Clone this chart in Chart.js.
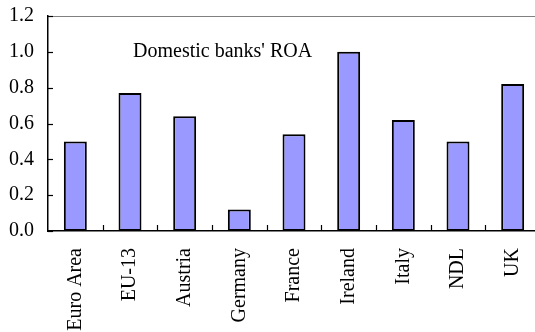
<!DOCTYPE html>
<html>
<head>
<meta charset="utf-8">
<script src="https://cdn.jsdelivr.net/npm/chart.js@4"></script>
<style>
  html, body { margin: 0; padding: 0; background: #fff; overflow: hidden; }
  #wrap { width: 540px; height: 332px; position: relative; }
</style>
</head>
<body>
<div id="wrap"><canvas id="c"></canvas></div>
<script>
// Return on assets of domestic banks, by country
const categories = ['Euro Area', 'EU-13', 'Austria', 'Germany', 'France', 'Ireland', 'Italy', 'NDL', 'UK'];
const roaValues = [0.50, 0.77, 0.64, 0.12, 0.54, 1.00, 0.62, 0.50, 0.82];
const yTicks = [0.0, 0.2, 0.4, 0.6, 0.8, 1.0, 1.2];
const chartLabel = "Domestic banks' ROA";

const FONT = '"Liberation Serif", "Times New Roman", serif';

// Inward tick marks, frame line and the in-plot caption
const decorations = {
  id: 'decorations',
  afterDraw(chart) {
    const { ctx, chartArea: a, scales: { x, y } } = chart;
    ctx.save();
    // top frame line
    ctx.strokeStyle = '#808080';
    ctx.lineWidth = 1;
    ctx.beginPath();
    ctx.moveTo(a.left, a.top + 0.5);
    ctx.lineTo(a.right, a.top + 0.5);
    ctx.stroke();
    // y ticks pointing into the plot
    ctx.strokeStyle = '#000';
    ctx.lineWidth = 1.2;
    yTicks.forEach(v => {
      const py = Math.round(y.getPixelForValue(v)) + 0.5;
      ctx.beginPath();
      ctx.moveTo(a.left, py);
      ctx.lineTo(a.left + 5, py);
      ctx.stroke();
    });
    // x ticks between categories, pointing up
    for (let i = 0; i < categories.length - 1; i++) {
      const px = Math.round((x.getPixelForValue(i) + x.getPixelForValue(i + 1)) / 2) + 0.5;
      ctx.beginPath();
      ctx.moveTo(px, a.bottom);
      ctx.lineTo(px, a.bottom - 6);
      ctx.stroke();
    }
    // caption
    ctx.fillStyle = '#000';
    ctx.font = '20px ' + FONT;
    ctx.textBaseline = 'alphabetic';
    ctx.textAlign = 'left';
    ctx.fillText(chartLabel, a.left + 85, a.top + 41);
    ctx.restore();
  }
};

new Chart(document.getElementById('c'), {
  type: 'bar',
  data: {
    labels: categories,
    datasets: [{
      data: roaValues,
      backgroundColor: '#9999FF',
      borderColor: '#000',
      borderWidth: 2,
      borderSkipped: false,
      categoryPercentage: 1,
      barPercentage: 0.42
    }]
  },
  options: {
    responsive: true,
    maintainAspectRatio: false,
    animation: false,
    devicePixelRatio: 1,
    layout: { padding: { top: 16, left: 0, right: 0, bottom: 0 } },
    plugins: { legend: { display: false }, tooltip: { enabled: false }, title: { display: false } },
    scales: {
      x: {
        grid: { display: false, drawTicks: false },
        border: { display: true, color: '#000', width: 1.5 },
        ticks: {
          color: '#000',
          font: { family: FONT, size: 20 },
          minRotation: 90,
          maxRotation: 90,
          autoSkip: false,
          padding: 17
        },
        afterFit(scale) {
          scale.height = 101;
          scale.paddingLeft = 0;
          scale.paddingRight = 0;
        }
      },
      y: {
        min: 0,
        max: 1.2,
        afterBuildTicks(scale) { scale.ticks = yTicks.map(v => ({ value: v })); },
        grid: { display: false, drawTicks: false },
        border: { display: true, color: '#000', width: 1.5 },
        ticks: {
          color: '#000',
          font: { family: FONT, size: 20 },
          padding: 14,
          callback: v => Number(v).toFixed(1)
        },
        afterFit(scale) {
          scale.width = 48;
          scale.paddingTop = 0;
          scale.paddingBottom = 0;
        }
      }
    }
  },
  plugins: [decorations]
});
</script>
</body>
</html>
